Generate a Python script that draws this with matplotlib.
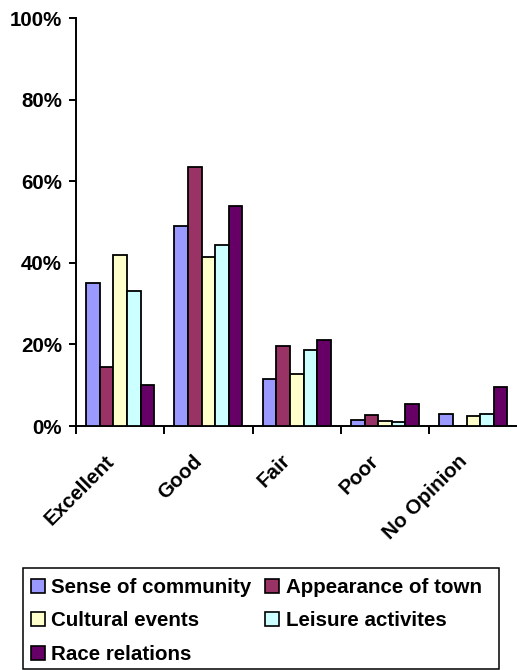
import matplotlib
matplotlib.use("Agg")
import matplotlib.pyplot as plt
from matplotlib.patches import Patch, Rectangle
from matplotlib.transforms import ScaledTranslation
import numpy as np

# =========================
# DATA
# =========================
categories = ["Excellent", "Good", "Fair", "Poor", "No Opinion"]
series_names = ["Sense of community", "Appearance of town", "Cultural events",
                "Leisure activites", "Race relations"]
sense_of_community = [35, 49, 11.5, 1.5, 3]
appearance_of_town = [14.5, 63.5, 19.5, 2.7, 0]
cultural_events = [42, 41.5, 12.7, 1.2, 2.5]
leisure_activites = [33, 44.5, 18.6, 1.0, 2.9]
race_relations = [10, 54, 21, 5.4, 9.6]
colors = ["#9999FF", "#993366", "#FFFFCC", "#CCFFFF", "#660066"]
y_ticks = [0, 20, 40, 60, 80, 100]
y_tick_labels = ["0%", "20%", "40%", "60%", "80%", "100%"]

values = [sense_of_community, appearance_of_town, cultural_events,
          leisure_activites, race_relations]

# =========================
# FIGURE
# =========================
plt.rcParams["font.family"] = ["Liberation Sans", "DejaVu Sans"]
plt.rcParams["font.weight"] = "bold"
FS = 14.8

W, H = 517, 670
fig = plt.figure(figsize=(W / 100, H / 100), dpi=100)
ax = fig.add_axes([76 / W, 1 - 426 / H, (517.5 - 76) / W, (426 - 18.3) / H])

n = len(values)
bar_w = 1 / 6.5
x = np.arange(len(categories))
for i, (vals, col) in enumerate(zip(values, colors)):
    ax.bar(x + (i - (n - 1) / 2) * bar_w, vals, width=bar_w, color=col,
           edgecolor="black", linewidth=1.3, zorder=3)

ax.set_xlim(-0.5, len(categories) - 0.5)
ax.set_ylim(0, 100)
ax.set_yticks(y_ticks, y_tick_labels, fontsize=FS, fontweight="bold")
ax.tick_params(axis="y", length=5, width=1.4, pad=5)

# category labels, rotated, end of text just left of the group centre
ax.set_xticks(x, [""] * len(categories))
ax.tick_params(axis="x", which="major", length=0)
offset = ScaledTranslation(-9 / 100, -32 / 100, fig.dpi_scale_trans)
for xi, cat in zip(x, categories):
    ax.text(xi, 0, cat, transform=ax.get_xaxis_transform() + offset,
            fontsize=FS, fontweight="bold", rotation=45,
            ha="right", va="center", rotation_mode="anchor")
ax.set_xticks(np.arange(len(categories) + 1) - 0.5, minor=True)
ax.tick_params(axis="x", which="minor", length=5.8, width=1.4)

for s in ["top", "right"]:
    ax.spines[s].set_visible(False)
for s in ["left", "bottom"]:
    ax.spines[s].set_linewidth(1.4)

# =========================
# LEGEND (row-wise order like Excel)
# =========================
order = [0, 2, 4, 1, 3]
handles = [Patch(facecolor=colors[k], edgecolor="black", linewidth=1.2) for k in order]
labels = [series_names[k] for k in order]
fig.legend(handles, labels, loc="upper left", ncol=2,
           bbox_to_anchor=(31 / W, 1 - 578 / H), frameon=False,
           prop={"size": FS, "weight": "bold"}, borderpad=0,
           handlelength=0.68, handleheight=0.68, handletextpad=0.3,
           columnspacing=0.68, labelspacing=0.7, borderaxespad=0)
fig.patches.append(Rectangle((23 / W, 1 - 669 / H), 476 / W, 101 / H,
                             transform=fig.transFigure, fill=False,
                             edgecolor="black", linewidth=1.1))

fig.savefig("out.png", dpi=100)
